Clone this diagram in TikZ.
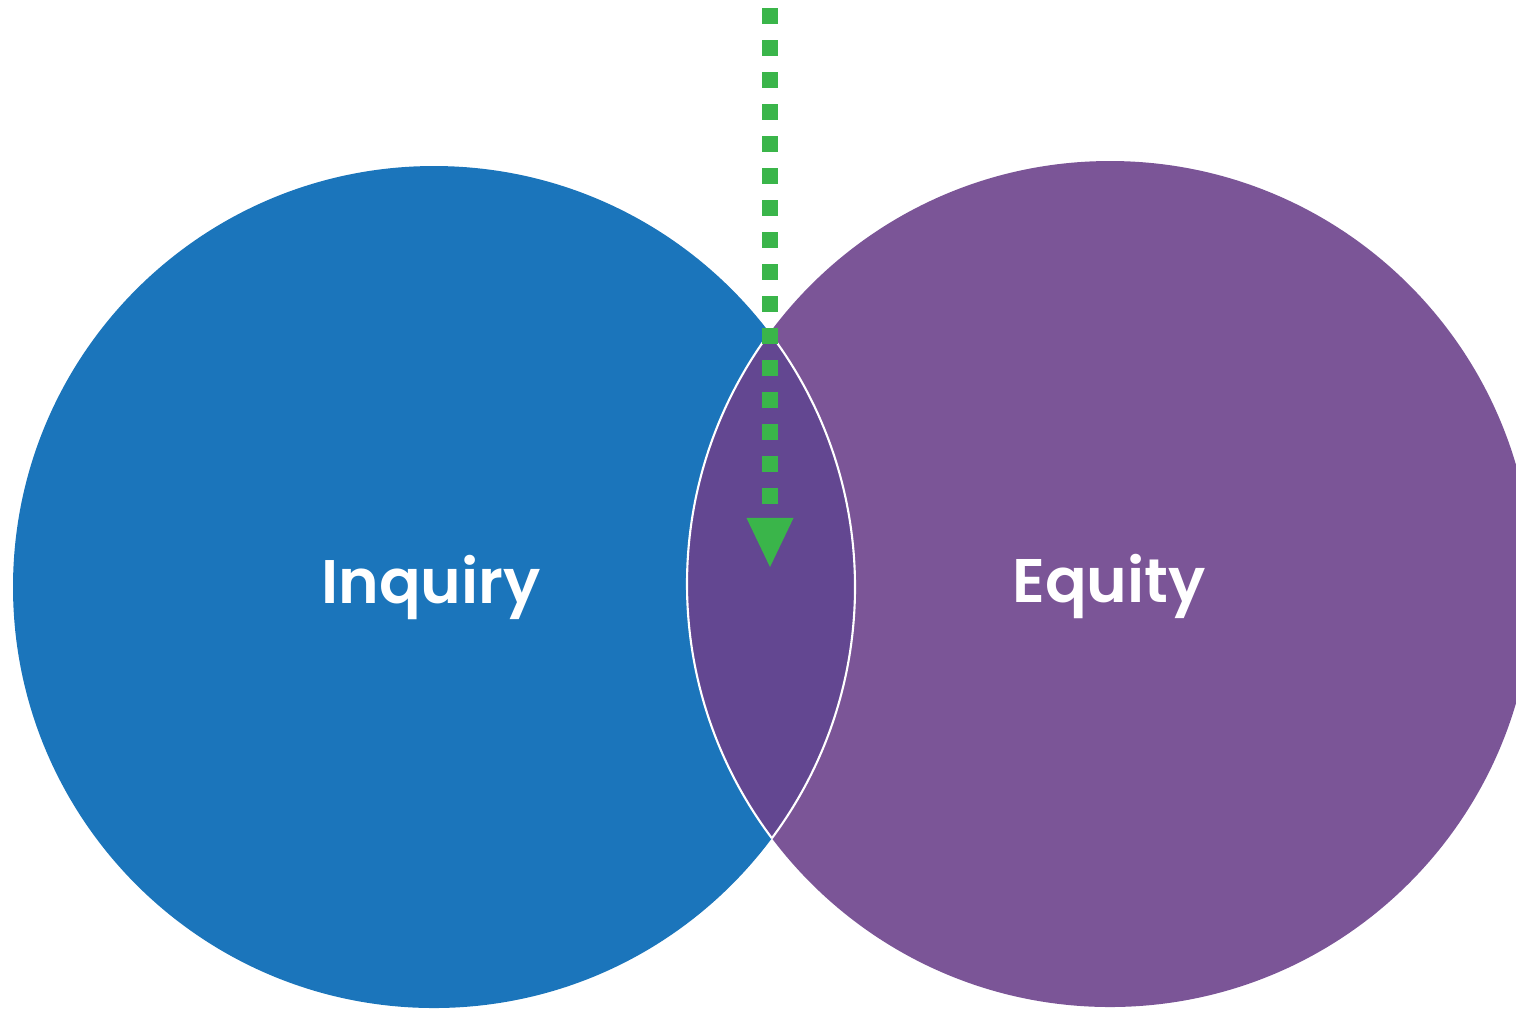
\documentclass[tikz,border=0pt]{standalone}
\usepackage{fontspec}
\setmainfont{Poppins}[BoldFont={Poppins SemiBold}]
\usetikzlibrary{arrows.meta}
\definecolor{inqblue}{HTML}{1B75BB}
\definecolor{eqpurple}{HTML}{7B5597}
\definecolor{overlap}{HTML}{634791}
\definecolor{flowgreen}{HTML}{3AB54A}

\begin{document}
\begin{tikzpicture}[x=0.01cm, y=-0.01cm,
  setname/.style={text=white, font=\fontsize{17.5}{20}\selectfont\bfseries, anchor=base},
  flow/.style={flowgreen, line width=0.165cm, dash pattern=on 0.155cm off 0.165cm,
    -{Triangle[width=0.47cm, length=0.49cm, line width=0pt]}}]
  \useasboundingbox (0,0) rectangle (1516,1011);

  % Circles
  \coordinate (inq) at (434,587);
  \coordinate (eq) at (1110,584);
  \fill[inqblue] (inq) circle[radius=421];
  \fill[eqpurple] (eq) circle[radius=423];

  % Overlap with its white rim
  \begin{scope}
    \clip (inq) circle[radius=421];
    \fill[overlap] (eq) circle[radius=423];
    \draw[white, line width=0.6pt] (eq) circle[radius=423];
  \end{scope}
  \begin{scope}
    \clip (eq) circle[radius=423];
    \draw[white, line width=0.6pt] (inq) circle[radius=421];
  \end{scope}

  % Labels
  \node[setname] (inqlabel) at (431,603) {Inquiry};
  \node[setname] (eqlabel) at (1109,602) {Equity};

  % Arrow down into the overlap
  \coordinate (start) at (770,8);
  \coordinate (tip) at (770,567);
  \draw[flow] (start) -- (tip);
\end{tikzpicture}
\end{document}
